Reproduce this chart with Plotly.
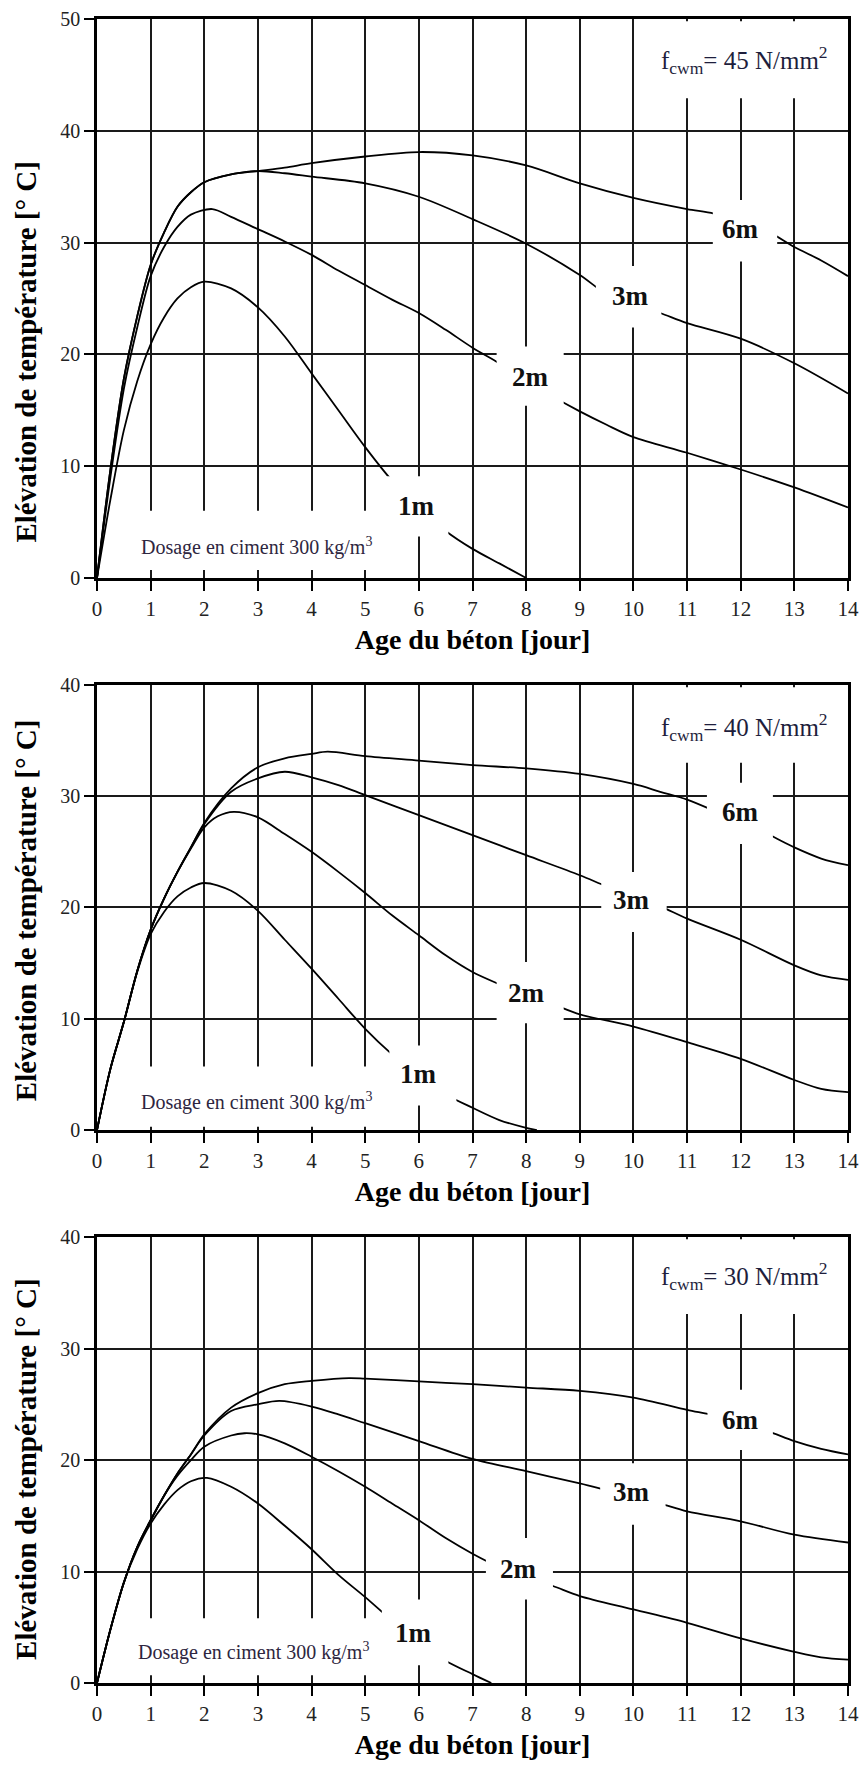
import plotly.graph_objects as go
from plotly.subplots import make_subplots

# ---------------- DATA ----------------
# Panel 1 : f_cwm = 45 N/mm2
x45_1m = [0, 0.25, 0.5, 0.75, 1, 1.25, 1.5, 1.75, 2, 2.5, 3, 3.5, 4, 4.5, 5, 5.5, 6, 6.5, 7, 7.5, 8]
y45_1m = [0, 7.0, 13.2, 17.6, 20.9, 23.3, 25.0, 26.0, 26.5, 25.9, 24.2, 21.6, 18.3, 15.0, 11.7, 8.7, 6.3, 4.2, 2.6, 1.3, 0]
x45_2m = [0, 0.25, 0.5, 0.75, 1, 1.25, 1.5, 1.75, 2.15, 2.5, 3, 3.5, 4, 4.5, 5, 5.5, 6, 6.5, 7, 7.5, 8, 8.5, 9, 9.5, 10, 11, 12, 13, 14]
y45_2m = [0, 9.0, 16.9, 22.4, 27.0, 29.6, 31.4, 32.5, 33.0, 32.3, 31.2, 30.1, 28.9, 27.5, 26.2, 24.9, 23.7, 22.2, 20.6, 19.2, 17.6, 16.2, 14.9, 13.7, 12.6, 11.2, 9.7, 8.1, 6.3]
x45_3m = [0, 0.25, 0.5, 0.75, 1, 1.25, 1.5, 1.75, 2, 2.5, 3, 3.5, 4, 5, 6, 7, 8, 9, 9.5, 10, 10.5, 11, 12, 13, 14]
y45_3m = [0, 9.7, 17.8, 23.4, 28.0, 30.9, 33.2, 34.5, 35.4, 36.1, 36.4, 36.2, 35.9, 35.3, 34.1, 32.1, 29.9, 27.1, 25.4, 24.5, 23.7, 22.8, 21.4, 19.2, 16.5]
x45_6m = [0, 0.25, 0.5, 0.75, 1, 1.25, 1.5, 1.75, 2, 2.5, 3, 3.5, 4, 5, 6, 7, 8, 9, 10, 11, 11.5, 12, 12.5, 13, 13.5, 14]
y45_6m = [0, 9.7, 17.8, 23.4, 28.0, 30.9, 33.2, 34.5, 35.4, 36.1, 36.4, 36.7, 37.1, 37.7, 38.1, 37.8, 36.9, 35.3, 34.0, 33.0, 32.6, 31.8, 31.0, 29.6, 28.4, 27.0]

# Panel 2 : f_cwm = 40 N/mm2
x40_1m = [0, 0.25, 0.5, 0.75, 1, 1.25, 1.5, 1.75, 2, 2.5, 3, 3.5, 4, 4.5, 5, 5.5, 6, 6.5, 7, 7.5, 8, 8.2]
y40_1m = [0, 5.5, 9.7, 14.2, 17.6, 19.6, 21.0, 21.8, 22.2, 21.5, 19.7, 17.1, 14.5, 11.8, 9.1, 6.8, 4.8, 3.2, 2.0, 0.9, 0.2, 0]
x40_2m = [0, 0.25, 0.5, 0.75, 1, 1.25, 1.5, 1.75, 2, 2.25, 2.55, 3, 3.5, 4, 4.5, 5, 5.5, 6, 6.5, 7, 7.5, 8, 8.5, 9, 10, 11, 12, 13, 13.5, 14]
y40_2m = [0, 5.5, 9.7, 14.3, 18.0, 20.8, 23.2, 25.3, 27.2, 28.2, 28.6, 28.1, 26.6, 25.0, 23.2, 21.3, 19.3, 17.5, 15.7, 14.2, 13.1, 12.1, 11.3, 10.4, 9.3, 7.9, 6.4, 4.5, 3.7, 3.4]
x40_3m = [0, 0.25, 0.5, 0.75, 1, 1.25, 1.5, 1.75, 2, 2.5, 3, 3.5, 4, 4.5, 5, 6, 7, 8, 9, 9.5, 10, 10.5, 11, 12, 13, 13.5, 14]
y40_3m = [0, 5.5, 9.7, 14.3, 18.0, 20.8, 23.2, 25.4, 27.5, 30.4, 31.6, 32.2, 31.7, 31.0, 30.1, 28.3, 26.5, 24.7, 22.9, 21.9, 21.0, 20.1, 19.0, 17.1, 14.8, 13.9, 13.5]
x40_6m = [0, 0.25, 0.5, 0.75, 1, 1.25, 1.5, 1.75, 2, 2.5, 3, 3.5, 4, 4.3, 5, 6, 7, 8, 9, 10, 10.5, 11, 11.5, 12, 12.5, 13, 13.5, 14]
y40_6m = [0, 5.5, 9.7, 14.3, 18.0, 20.8, 23.2, 25.4, 27.6, 30.7, 32.6, 33.4, 33.8, 34.0, 33.6, 33.2, 32.8, 32.5, 32.0, 31.1, 30.4, 29.7, 28.7, 27.6, 26.6, 25.4, 24.4, 23.8]

# Panel 3 : f_cwm = 30 N/mm2
x30_1m = [0, 0.25, 0.5, 0.75, 1, 1.25, 1.5, 1.75, 2.05, 2.5, 3, 3.5, 4, 4.5, 5, 5.5, 6, 6.5, 7, 7.35]
y30_1m = [0, 4.8, 9.0, 12.0, 14.3, 16.0, 17.3, 18.1, 18.4, 17.6, 16.1, 14.1, 12.0, 9.7, 7.7, 5.6, 3.7, 2.0, 0.8, 0]
x30_2m = [0, 0.25, 0.5, 0.75, 1, 1.25, 1.5, 1.75, 2, 2.5, 2.75, 3, 3.5, 4, 4.5, 5, 5.5, 6, 6.5, 7, 7.5, 8, 8.5, 9, 10, 11, 12, 13, 13.5, 14]
y30_2m = [0, 4.8, 9.0, 12.2, 14.6, 16.8, 18.6, 20.0, 21.2, 22.2, 22.4, 22.3, 21.5, 20.3, 19.0, 17.6, 16.1, 14.6, 13.0, 11.6, 10.4, 9.5, 8.7, 7.8, 6.6, 5.4, 4.0, 2.8, 2.3, 2.1]
x30_3m = [0, 0.25, 0.5, 0.75, 1, 1.25, 1.5, 1.75, 2, 2.5, 3, 3.4, 4, 4.5, 5, 6, 7, 8, 9, 9.5, 10, 10.5, 11, 12, 13, 14]
y30_3m = [0, 4.8, 9.0, 12.2, 14.6, 16.8, 18.8, 20.5, 22.2, 24.4, 25.0, 25.3, 24.8, 24.1, 23.3, 21.7, 20.1, 19.0, 17.9, 17.3, 16.7, 16.1, 15.4, 14.5, 13.3, 12.6]
x30_6m = [0, 0.25, 0.5, 0.75, 1, 1.25, 1.5, 1.75, 2, 2.5, 3, 3.5, 4, 4.7, 5, 6, 7, 8, 9, 10, 11, 11.5, 12, 12.5, 13, 13.5, 14]
y30_6m = [0, 4.8, 9.0, 12.2, 14.6, 16.8, 18.8, 20.5, 22.3, 24.7, 26.0, 26.8, 27.1, 27.35, 27.3, 27.05, 26.8, 26.5, 26.2, 25.6, 24.5, 24.0, 23.3, 22.6, 21.7, 21.0, 20.5]

series_labels = ["1m", "2m", "3m", "6m"]
strength_labels = ["45", "40", "30"]
y_max = [50, 40, 40]
x_ticks = list(range(0, 15))

panels = [
    [(x45_1m, y45_1m), (x45_2m, y45_2m), (x45_3m, y45_3m), (x45_6m, y45_6m)],
    [(x40_1m, y40_1m), (x40_2m, y40_2m), (x40_3m, y40_3m), (x40_6m, y40_6m)],
    [(x30_1m, y30_1m), (x30_2m, y30_2m), (x30_3m, y30_3m), (x30_6m, y30_6m)],
]

# ---------------- LAYOUT CONFIG ----------------
SERIF = "Liberation Serif, Times New Roman, Tinos, DejaVu Serif, serif"
domains = [[0.6641, 1.0], [0.3323, 0.5998], [0.0, 0.2680]]
ytitle_center = [0.405, 0.494, 0.48]

# label placement: (text_x, text_y, mask x0, x1, y0, y1) per curve label
label_pos = [
    {"6m": (12.0, 31.2, 11.48, 12.68, 28.3, 33.8),
     "3m": (9.95, 25.2, 9.3, 10.52, 22.4, 27.9),
     "2m": (8.08, 18.0, 7.45, 8.7, 15.4, 20.7),
     "1m": (5.95, 6.4, 5.4, 6.55, 3.7, 9.1)},
    {"6m": (12.0, 28.6, 11.37, 12.6, 25.7, 31.2),
     "3m": (9.97, 20.7, 9.4, 10.62, 17.8, 23.2),
     "2m": (8.0, 12.3, 7.45, 8.7, 9.6, 15.1),
     "1m": (6.0, 5.0, 5.45, 6.7, 2.2, 7.6)},
    {"6m": (12.0, 23.6, 11.38, 12.6, 20.9, 26.3),
     "3m": (9.97, 17.1, 9.38, 10.6, 14.2, 19.7),
     "2m": (7.85, 10.2, 7.25, 8.5, 7.5, 13.0),
     "1m": (5.9, 4.5, 5.31, 6.55, 1.6, 7.5)},
]
dosage_pos = [(2.98, 2.8, 0.45, 5.35, 0.7, 6.0),
              (2.98, 2.6, 0.45, 5.35, 0.3, 5.7),
              (2.92, 2.8, 0.45, 5.3, 0.7, 5.8)]
fcwm_pos = [(12.07, 46.3, 10.15, 13.92, 42.9, 49.8),
            (12.07, 36.2, 10.15, 13.92, 33.0, 39.8),
            (12.07, 36.5, 10.15, 13.92, 33.1, 39.8)]

fig = make_subplots(rows=3, cols=1)

for p, curves in enumerate(panels):
    row = p + 1
    for (xs, ys), name in zip(curves, series_labels):
        fig.add_trace(go.Scatter(x=xs, y=ys, mode="lines", name=name, showlegend=False,
                                 line=dict(color="black", width=1.8, shape="spline", smoothing=0.9)),
                      row=row, col=1)

shapes = []
annotations = []
for p in range(3):
    xr = "x" if p == 0 else f"x{p+1}"
    yr = "y" if p == 0 else f"y{p+1}"
    for name in series_labels:
        tx, ty, x0, x1, y0, y1 = label_pos[p][name]
        shapes.append(dict(type="rect", xref=xr, yref=yr, x0=x0, x1=x1, y0=y0, y1=y1,
                           fillcolor="white", line=dict(width=0), layer="above"))
        annotations.append(dict(xref=xr, yref=yr, x=tx, y=ty, text=f"<b>{name}</b>", showarrow=False,
                                font=dict(family=SERIF, size=27, color="#111")))
    tx, ty, x0, x1, y0, y1 = dosage_pos[p]
    shapes.append(dict(type="rect", xref=xr, yref=yr, x0=x0, x1=x1, y0=y0, y1=y1,
                       fillcolor="white", line=dict(width=0), layer="above"))
    annotations.append(dict(xref=xr, yref=yr, x=tx, y=ty, text="Dosage en ciment 300 kg/m<sup>3</sup>",
                            showarrow=False, font=dict(family=SERIF, size=20, color="#2e2640")))
    tx, ty, x0, x1, y0, y1 = fcwm_pos[p]
    shapes.append(dict(type="rect", xref=xr, yref=yr, x0=x0, x1=x1, y0=y0, y1=y1,
                       fillcolor="white", line=dict(width=0), layer="above"))
    annotations.append(dict(xref=xr, yref=yr, x=tx, y=ty,
                            text=f"f<sub>cwm</sub>= {strength_labels[p]} N/mm<sup>2</sup>",
                            showarrow=False, font=dict(family=SERIF, size=25, color="#1e1e3c")))
    annotations.append(dict(xref="paper", yref=f"{yr} domain", x=0, y=ytitle_center[p], xshift=-71,
                            text="<b>Elévation de température [° C]</b>", textangle=-90, showarrow=False,
                            xanchor="center", yanchor="middle",
                            font=dict(family=SERIF, size=29, color="black")))

for p in range(3):
    xa = "xaxis" if p == 0 else f"xaxis{p+1}"
    ya = "yaxis" if p == 0 else f"yaxis{p+1}"
    fig.layout[xa].update(
        domain=[0, 1], range=[0, 14], tickmode="array", tickvals=x_ticks, ticktext=[str(v) for v in x_ticks],
        showgrid=True, gridcolor="#1a1a1a", gridwidth=1.6, zeroline=False,
        showline=True, linecolor="black", linewidth=3, mirror=True,
        ticks="outside", ticklen=10, tickwidth=2, tickcolor="black",
        tickfont=dict(family=SERIF, size=21, color="#222"), ticklabeloverflow="allow",
        title=dict(text="<b>Age du béton [jour]</b>", font=dict(family=SERIF, size=28, color="black"), standoff=10),
        automargin=False,
    )
    fig.layout[ya].update(
        domain=domains[p], range=[0, y_max[p]], dtick=10, tick0=0,
        showgrid=True, gridcolor="#1a1a1a", gridwidth=1.6, zeroline=False,
        showline=True, linecolor="black", linewidth=2.5, mirror=True,
        ticks="outside", ticklen=10, tickwidth=2, tickcolor="black",
        tickfont=dict(family=SERIF, size=20, color="#222"),
        automargin=False,
    )

fig.update_layout(
    width=864, height=1769,
    margin=dict(l=97, r=16, t=19, b=86),
    paper_bgcolor="white", plot_bgcolor="white",
    font=dict(family=SERIF),
    shapes=shapes, annotations=annotations,
    showlegend=False,
)

fig.write_html("out.html", config={"displayModeBar": False},
               post_script="document.body.style.margin='0';document.body.style.overflow='hidden';")
